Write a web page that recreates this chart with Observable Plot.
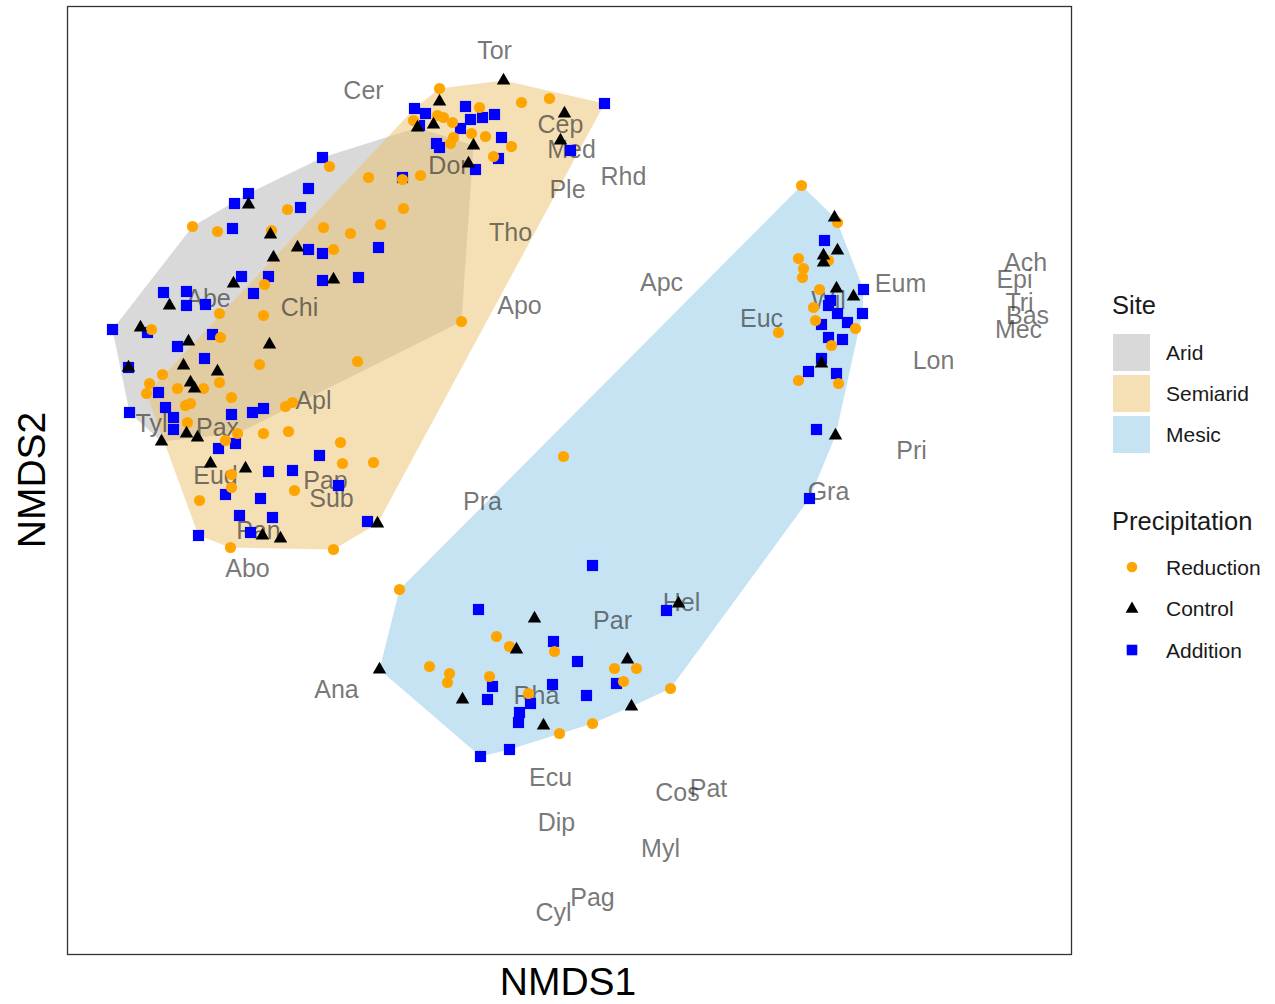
<!DOCTYPE html>
<html>
<head>
<meta charset="utf-8">
<script src="https://cdn.jsdelivr.net/npm/d3@7"></script>
<script src="https://cdn.jsdelivr.net/npm/@observablehq/plot@0.6"></script>
<style>
  html, body { margin: 0; padding: 0; background: #fff; }
  body { font-family: Arial, "Liberation Sans", sans-serif; }
  #wrap { position: relative; width: 1275px; height: 1004px; overflow: hidden; }
  #chart { position: absolute; left: 0; top: 0; }
  .abs { position: absolute; white-space: nowrap; line-height: 1; }
  .ttl { font-size: 25.5px; color: #1a1a1a; }
  .lab { font-size: 21px; color: #1a1a1a; }
  .axis { font-size: 39px; color: #000; }
  .key { position: absolute; width: 37px; height: 37px; }
</style>
</head>
<body>
<div id="wrap">
  <div id="chart"></div>
</div>
<script>
// ---- Data (NMDS scores; y grows downward in reading units) ----
// each entry: [NMDS1, NMDS2, precipitation]  R = Reduction, C = Control, A = Addition
const aridPoints = [
  [417,127,"C"],
  [450,143,"R"],[436,143,"A"],[439,147,"A"],[473,145,"C"],[468,163,"C"],[402,177,"A"],
  [402,179,"R"],[420,175,"R"],[368,177,"R"],[403,208,"R"],[380,224,"R"],[350,233,"R"],[323,227,"R"],
  [287,209,"R"],[300,207,"A"],[308,188,"A"],[322,157,"A"],[329,166,"R"],[248,193,"A"],[248,204,"C"],
  [234,203,"A"],[232,228,"A"],[192,226,"R"],[217,231,"R"],[270,234,"C"],[271,230,"R"],[297,247,"C"],
  [308,249,"A"],[322,253,"A"],[333,249,"R"],[273,257,"C"],[241,276,"A"],[233,283,"C"],[268,276,"A"],
  [264,284,"R"],[253,293,"A"],[322,280,"A"],[333,279,"C"],[358,277,"A"],[378,247,"A"],[163,292,"A"],
  [186,291,"A"],[169,305,"C"],[186,305,"A"],[205,304,"A"],[219,313,"R"],[263,315,"R"],[112,329,"A"],
  [140,327,"C"],[147,332,"A"],[151,329,"R"],[212,334,"A"],[220,337,"R"],[188,341,"C"],[177,346,"A"],
  [269,344,"C"],[204,358,"A"],[183,365,"C"],[217,371,"C"],[259,364,"R"],[357,361,"R"],[128,367,"A"],
  [128,367,"C"],[162,374,"R"],[149,383,"R"],[190,382,"C"],[194,388,"C"],[219,382,"R"],[203,388,"R"],
  [177,388,"R"],[158,392,"A"],[461,321,"R"],[129,412,"A"],[165,407,"A"],[173,417,"A"],[173,429,"A"],
  [187,422,"R"],[185,405,"R"],[190,403,"R"],[231,397,"R"],[161,441,"C"],[186,433,"C"],[197,437,"C"],
  [231,414,"A"],[252,412,"A"],[263,408,"A"],[285,406,"R"],[292,402,"R"],[237,433,"R"]
];
const semiaridPoints = [
  [414,108,"A"],[419,125,"A"],[433,124,"C"],[437,115,"R"],[443,117,"R"],[452,122,"R"],[453,137,"R"],
  [439,88,"R"],[503,80,"C"],[604,103,"A"],[521,102,"R"],[549,98,"R"],[564,113,"C"],[560,140,"C"],
  [570,150,"A"],[439,101,"C"],[425,113,"A"],[413,120,"R"],[465,106,"A"],[479,107,"R"],[482,117,"A"],
  [494,114,"A"],[470,119,"A"],[460,128,"A"],[471,133,"R"],[485,136,"R"],[501,137,"A"],[511,146,"R"],
  [475,169,"A"],[498,158,"A"],[493,156,"R"],[146,393,"R"],[235,443,"A"],[218,448,"A"],[225,440,"R"],
  [263,433,"R"],[288,431,"R"],[340,442,"R"],[319,455,"A"],[342,463,"R"],[373,462,"R"],[210,463,"C"],
  [245,468,"C"],[268,471,"A"],[292,470,"A"],[231,474,"R"],[231,487,"R"],[338,485,"A"],[294,490,"R"],
  [199,500,"R"],[225,494,"A"],[260,498,"A"],[239,515,"A"],[272,517,"A"],[367,521,"A"],[377,523,"C"],
  [198,535,"A"],[250,532,"A"],[262,535,"C"],[280,538,"C"],[230,547,"R"],[333,549,"R"]
];
const mesicPoints = [
  [801,185,"R"],[834,217,"C"],[837,222,"R"],[824,240,"A"],[823,255,"C"],[837,250,"C"],[823,262,"C"],
  [828,260,"R"],[798,258,"R"],[803,268,"R"],[802,277,"R"],[819,289,"R"],[836,288,"C"],[853,296,"C"],
  [863,289,"A"],[830,300,"A"],[828,305,"A"],[837,313,"A"],[813,307,"R"],[815,320,"R"],[821,324,"A"],
  [847,322,"A"],[862,313,"A"],[855,328,"R"],[828,337,"A"],[831,345,"R"],[842,339,"A"],[821,358,"A"],
  [821,363,"C"],[808,371,"A"],[798,380,"R"],[836,373,"A"],[838,383,"R"],[816,429,"A"],[835,435,"C"],
  [778,332,"R"],[809,498,"A"],[563,456,"R"],
  [399,589,"R"],[592,565,"A"],[478,609,"A"],[534,618,"C"],[678,603,"C"],[666,610,"A"],[496,636,"R"],
  [509,646,"R"],[516,649,"C"],[553,641,"A"],[554,651,"R"],[577,661,"A"],[379,669,"C"],[429,666,"R"],
  [449,673,"R"],[447,682,"R"],[489,676,"R"],[492,686,"A"],[627,659,"C"],[614,668,"R"],[636,668,"R"],
  [616,683,"A"],[623,681,"R"],[552,684,"A"],[586,695,"A"],[462,699,"C"],[487,699,"A"],[528,693,"R"],
  [530,703,"A"],[519,712,"A"],[518,722,"A"],[631,706,"C"],[670,688,"R"],[543,725,"C"],[559,733,"R"],
  [592,723,"R"],[509,749,"A"],[480,756,"A"]
];
// species scores
const speciesNames = ["Tor","Cer","Cep","Med","Dor","Ple","Rhd","Tho","Apc","Apo","Abe","Chi","Euc","Wil","Eum",
  "Ach","Epi","Tri","Bas","Mec","Lon","Apl","Tyl","Pax","Pri","Eud","Pap","Sub","Gra","Pra","Pan","Abo",
  "Ana","Par","Hel","Rha","Ecu","Cos","Pat","Dip","Myl","Pag","Cyl"];
const speciesX = [494,363,560,571,448,567,623,510,661,519,208,299,761,828,900,
  1025,1014,1019,1027,1018,933,313,151,217,911,215,325,331,828,482,258,247,
  336,612,681,536,550,677,708,556,660,592,553];
const speciesY = [50,90,124,149,165,189,176,232,282,305,298,307,318,300,283,
  262,279,302,315,329,360,400,423,427,450,475,480,498,491,501,530,568,
  689,620,602,695,777,792,788,822,848,897,912];

const siteNames = ["Arid","Semiarid","Mesic"];
const siteFill = ["#b4b4b4","#ecbf6a","#8ec8e8"];
const precipNames = ["Reduction","Control","Addition"];
const precipCodes = ["R","C","A"];
const precipColor = ["#ffa500","#000000","#0000ff"];
const precipSymbol = ["circle","triangle","square"];
const precipR = [5.6, 5.0, 6.3];

// ---- Build tables ----
const sitePoints = [aridPoints, semiaridPoints, mesicPoints];
const points = [];
sitePoints.forEach((arr, i) => arr.forEach(([x, y, p]) => points.push({site: siteNames[i], x, y, p})));
const species = speciesNames.map((n, i) => ({name: n, x: speciesX[i], y: speciesY[i]}));

const marks = [];
siteNames.forEach((s, i) => {
  marks.push(Plot.hull(points.filter(d => d.site === s), {x: "x", y: "y", fill: siteFill[i], fillOpacity: 0.5, stroke: null}));
});
marks.push(Plot.text(species, {x: "x", y: "y", text: "name", fontSize: 25, fill: "#333", fillOpacity: 0.68}));
[2, 0, 1].forEach(k => {
  marks.push(Plot.dot(points.filter(d => d.p === precipCodes[k]), {
    x: "x", y: "y", symbol: () => precipSymbol[k], r: precipR[k], fill: precipColor[k], stroke: null
  }));
});
marks.push(Plot.frame({stroke: "#333", strokeWidth: 1.3}));

const chart = Plot.plot({
  width: 1100,
  height: 1004,
  marginLeft: 67,
  marginRight: 29,
  marginTop: 6,
  marginBottom: 50,
  x: {domain: [67, 1071], axis: null},
  y: {domain: [954, 6], axis: null},
  symbol: {type: "identity"},
  style: {fontFamily: 'Arial, "Liberation Sans", sans-serif', background: "#fff"},
  marks
});
document.getElementById("chart").appendChild(chart);

// ---- Axis titles and legend (HTML) ----
const wrap = document.getElementById("wrap");
function addDiv(cls, text, css) {
  const d = document.createElement("div");
  d.className = "abs " + cls;
  d.textContent = text;
  Object.assign(d.style, css);
  wrap.appendChild(d);
  return d;
}
addDiv("axis", "NMDS1", {left: "568px", top: "962px", transform: "translateX(-50%)"});
addDiv("axis", "NMDS2", {left: "31px", top: "480px", transform: "translate(-50%,-50%) rotate(-90deg)"});

addDiv("ttl", "Site", {left: "1112px", top: "293px"});
siteNames.forEach((s, i) => {
  const top = 334 + i * 41;
  const k = document.createElement("div");
  k.className = "key";
  Object.assign(k.style, {left: "1113px", top: top + "px", background: siteFill[i], opacity: 0.5});
  wrap.appendChild(k);
  addDiv("lab", s, {left: "1166px", top: (top + 18.5 - 10.5) + "px"});
});
addDiv("ttl", "Precipitation", {left: "1112px", top: "509px"});
precipNames.forEach((p, i) => {
  const cy = 567 + i * 41.5;
  const svg = d3.create("svg").attr("width", 24).attr("height", 24)
    .style("position", "absolute").style("left", (1132 - 12) + "px").style("top", (cy - 12) + "px");
  const sym = d3.symbol().type(precipSymbol[i] === "circle" ? d3.symbolCircle : precipSymbol[i] === "triangle" ? d3.symbolTriangle : d3.symbolSquare)
    .size(Math.PI * precipR[i] * precipR[i] * 0.9);
  svg.append("path").attr("d", sym()).attr("transform", "translate(12,12)").attr("fill", precipColor[i]);
  wrap.appendChild(svg.node());
  addDiv("lab", p, {left: "1166px", top: (cy - 10.5) + "px"});
});
</script>
</body>
</html>
